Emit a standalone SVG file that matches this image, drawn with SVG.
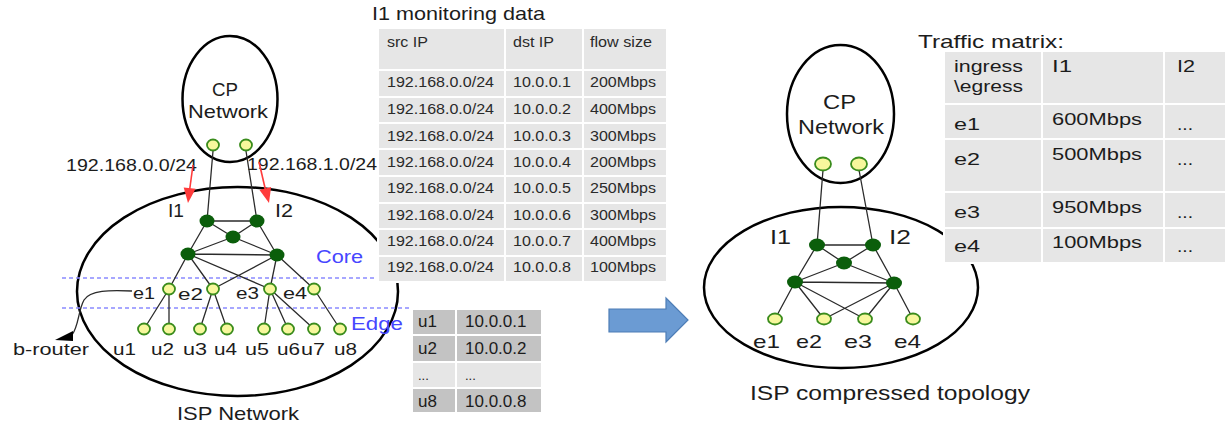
<svg xmlns="http://www.w3.org/2000/svg" width="1225" height="428" viewBox="0 0 1225 428">
<defs>
<style>
text{font-family:"Liberation Sans",Arial,sans-serif;fill:#1c1c1c}
.ring{fill:none;stroke:#000;stroke-width:2.5}
.lk{stroke:#2b2b2b;stroke-width:1.3;fill:none}
.core{fill:#0b5e0b}
.edge{fill:#f7f79c;stroke:#3a8c1c;stroke-width:1.8}
.cell{fill:#e6e6e6;stroke:#fff;stroke-width:2}
.dcell{fill:#c3c3c3;stroke:#fff;stroke-width:2}
.tt{font-size:14px;fill:#2a2a2a}
.mt{font-size:16px;fill:#1c1c1c}
.dash{stroke:#8a8aff;stroke-width:1.3;stroke-dasharray:4 3}
.zone{fill:#4646ff;font-size:18px}
.red{stroke:#ff3b3b;stroke-width:1.6}
.redh{fill:#ff3b3b}
.lbl{font-size:17px}
</style>
</defs>

<!-- ISP network (full topology) -->
<g id="isp-network">
  <ellipse class="ring" cx="237.5" cy="291.5" rx="160.5" ry="104.5"/>
  <line class="dash" x1="62" y1="278" x2="378" y2="278"/>
  <line class="dash" x1="62" y1="308" x2="410" y2="308"/>
  <text class="zone" x="316" y="263" textLength="47" lengthAdjust="spacingAndGlyphs">Core</text>
  <text class="zone" x="351" y="330" textLength="52" lengthAdjust="spacingAndGlyphs">Edge</text>
  <text x="177" y="420" font-size="19" textLength="122" lengthAdjust="spacingAndGlyphs">ISP Network</text>
</g>

<!-- CP network -->
<g id="cp-network">
  <ellipse class="ring" cx="230" cy="99" rx="47.5" ry="63" stroke-width="2"/>
  <text x="212" y="96" font-size="19" textLength="26" lengthAdjust="spacingAndGlyphs">CP</text>
  <text x="188" y="118" font-size="19" textLength="80" lengthAdjust="spacingAndGlyphs">Network</text>
</g>

<!-- prefix annotations -->
<g id="prefixes">
  <text x="66" y="171" font-size="16.5" textLength="131" lengthAdjust="spacingAndGlyphs">192.168.0.0/24</text>
  <text x="247" y="170" font-size="16.5" textLength="130" lengthAdjust="spacingAndGlyphs">192.168.1.0/24</text>
  <line class="red" x1="193" y1="165" x2="189.6" y2="190"/>
  <polygon class="redh" points="188,203 195.6,188.8 183.7,187.4"/>
  <line class="red" x1="259" y1="162" x2="265.5" y2="190"/>
  <polygon class="redh" points="269,203 271.1,187 259.5,190"/>
</g>

<!-- links of the full topology -->
<g id="links-full">
  <path class="lk" d="M213,151 L207,221 M246,151 L257,221 M207,221 L257,221 M207,221 L188,254 M257,221 L277,255 M207,221 L233,237 M257,221 L233,237 M233,237 L188,254 M233,237 L277,255 M188,254 L277,255 M188,254 L169,289 M188,254 L213,289 M188,254 L270,289 M277,255 L213,289 M277,255 L270,289 M277,255 L314,289 M169,289 L144,329 M169,289 L169,329 M213,289 L200,329 M213,289 L227,329 M270,289 L264,329 M270,289 L288,329 M270,289 L314,329 M314,289 L340,329"/>
  <path class="lk" stroke="#333" d="M132,291 C110,290 90,290 84,300 C78,311 79,325 72,335"/>
  <polygon points="55,340 73,331 73,341" fill="#000"/>
</g>

<!-- nodes of the full topology -->
<g id="cp-ports">
  <ellipse class="edge" cx="213" cy="145" rx="6" ry="5.5"/>
  <ellipse class="edge" cx="246" cy="145" rx="6" ry="5.5"/>
</g>
<g id="ingress-I1"><ellipse class="core" cx="207" cy="221" rx="7.5" ry="6.5"/><text x="168" y="217" font-size="19" textLength="16" lengthAdjust="spacingAndGlyphs">I1</text></g>
<g id="ingress-I2"><ellipse class="core" cx="257" cy="221" rx="7.5" ry="6.5"/><text x="275" y="217" font-size="19" textLength="18" lengthAdjust="spacingAndGlyphs">I2</text></g>
<g id="core-mid"><ellipse class="core" cx="233" cy="237" rx="7.5" ry="6.5"/></g>
<g id="core-left"><ellipse class="core" cx="188" cy="254" rx="7.5" ry="6.5"/></g>
<g id="core-right"><ellipse class="core" cx="277" cy="255" rx="7.5" ry="6.5"/></g>
<g id="edge-e1"><ellipse class="edge" cx="169" cy="289" rx="6" ry="5.5"/><text class="lbl" x="133" y="299" textLength="22" lengthAdjust="spacingAndGlyphs">e1</text></g>
<g id="edge-e2"><ellipse class="edge" cx="213" cy="289" rx="6" ry="5.5"/><text class="lbl" x="178" y="300" textLength="25" lengthAdjust="spacingAndGlyphs">e2</text></g>
<g id="edge-e3"><ellipse class="edge" cx="270" cy="289" rx="6" ry="5.5"/><text class="lbl" x="236" y="299" textLength="23" lengthAdjust="spacingAndGlyphs">e3</text></g>
<g id="edge-e4"><ellipse class="edge" cx="314" cy="289" rx="6" ry="5.5"/><text class="lbl" x="283" y="299" textLength="24" lengthAdjust="spacingAndGlyphs">e4</text></g>
<g id="user-u1"><ellipse class="edge" cx="144" cy="329" rx="6" ry="5.5"/><text class="lbl" x="113" y="355" textLength="23" lengthAdjust="spacingAndGlyphs">u1</text></g>
<g id="user-u2"><ellipse class="edge" cx="169" cy="329" rx="6" ry="5.5"/><text class="lbl" x="151" y="355" textLength="23" lengthAdjust="spacingAndGlyphs">u2</text></g>
<g id="user-u3"><ellipse class="edge" cx="200" cy="329" rx="6" ry="5.5"/><text class="lbl" x="183" y="355" textLength="24" lengthAdjust="spacingAndGlyphs">u3</text></g>
<g id="user-u4"><ellipse class="edge" cx="227" cy="329" rx="6" ry="5.5"/><text class="lbl" x="214" y="355" textLength="23" lengthAdjust="spacingAndGlyphs">u4</text></g>
<g id="user-u5"><ellipse class="edge" cx="264" cy="329" rx="6" ry="5.5"/><text class="lbl" x="245" y="355" textLength="24" lengthAdjust="spacingAndGlyphs">u5</text></g>
<g id="user-u6"><ellipse class="edge" cx="288" cy="329" rx="6" ry="5.5"/><text class="lbl" x="277" y="355" textLength="23" lengthAdjust="spacingAndGlyphs">u6</text></g>
<g id="user-u7"><ellipse class="edge" cx="314" cy="329" rx="6" ry="5.5"/><text class="lbl" x="301" y="355" textLength="24" lengthAdjust="spacingAndGlyphs">u7</text></g>
<g id="user-u8"><ellipse class="edge" cx="340" cy="329" rx="6" ry="5.5"/><text class="lbl" x="334" y="355" textLength="23" lengthAdjust="spacingAndGlyphs">u8</text></g>
<g id="b-router-label"><text class="lbl" x="13" y="355" textLength="76" lengthAdjust="spacingAndGlyphs">b-router</text></g>

<!-- I1 monitoring data table -->
<g id="monitoring-table">
  <text x="372" y="20" font-size="19" textLength="173" lengthAdjust="spacingAndGlyphs">I1 monitoring data</text>
  <rect class="cell" x="378" y="28" width="127" height="42"/>
  <rect class="cell" x="505" y="28" width="78" height="42"/>
  <rect class="cell" x="583" y="28" width="84" height="42"/>
  <g>
    <rect class="cell" x="378" y="70" width="127" height="27"/><rect class="cell" x="505" y="70" width="78" height="27"/><rect class="cell" x="583" y="70" width="84" height="27"/>
    <rect class="cell" x="378" y="97" width="127" height="26"/><rect class="cell" x="505" y="97" width="78" height="26"/><rect class="cell" x="583" y="97" width="84" height="26"/>
    <rect class="cell" x="378" y="123" width="127" height="26"/><rect class="cell" x="505" y="123" width="78" height="26"/><rect class="cell" x="583" y="123" width="84" height="26"/>
    <rect class="cell" x="378" y="149" width="127" height="27"/><rect class="cell" x="505" y="149" width="78" height="27"/><rect class="cell" x="583" y="149" width="84" height="27"/>
    <rect class="cell" x="378" y="176" width="127" height="27"/><rect class="cell" x="505" y="176" width="78" height="27"/><rect class="cell" x="583" y="176" width="84" height="27"/>
    <rect class="cell" x="378" y="203" width="127" height="26"/><rect class="cell" x="505" y="203" width="78" height="26"/><rect class="cell" x="583" y="203" width="84" height="26"/>
    <rect class="cell" x="378" y="229" width="127" height="27"/><rect class="cell" x="505" y="229" width="78" height="27"/><rect class="cell" x="583" y="229" width="84" height="27"/>
    <rect class="cell" x="378" y="256" width="127" height="26"/><rect class="cell" x="505" y="256" width="78" height="26"/><rect class="cell" x="583" y="256" width="84" height="26"/>
  </g>
  <text class="tt" x="387" y="47" textLength="41" lengthAdjust="spacingAndGlyphs">src IP</text>
  <text class="tt" x="513" y="47" textLength="41" lengthAdjust="spacingAndGlyphs">dst IP</text>
  <text class="tt" x="590" y="47" textLength="62" lengthAdjust="spacingAndGlyphs">flow size</text>
  <g class="tt">
    <text class="tt" x="387" y="87" textLength="107" lengthAdjust="spacingAndGlyphs">192.168.0.0/24</text><text class="tt" x="513" y="87" textLength="58" lengthAdjust="spacingAndGlyphs">10.0.0.1</text><text class="tt" x="590" y="87" textLength="66" lengthAdjust="spacingAndGlyphs">200Mbps</text>
    <text class="tt" x="387" y="114" textLength="107" lengthAdjust="spacingAndGlyphs">192.168.0.0/24</text><text class="tt" x="513" y="114" textLength="58" lengthAdjust="spacingAndGlyphs">10.0.0.2</text><text class="tt" x="590" y="114" textLength="66" lengthAdjust="spacingAndGlyphs">400Mbps</text>
    <text class="tt" x="387" y="141" textLength="107" lengthAdjust="spacingAndGlyphs">192.168.0.0/24</text><text class="tt" x="513" y="141" textLength="58" lengthAdjust="spacingAndGlyphs">10.0.0.3</text><text class="tt" x="590" y="141" textLength="66" lengthAdjust="spacingAndGlyphs">300Mbps</text>
    <text class="tt" x="387" y="167" textLength="107" lengthAdjust="spacingAndGlyphs">192.168.0.0/24</text><text class="tt" x="513" y="167" textLength="58" lengthAdjust="spacingAndGlyphs">10.0.0.4</text><text class="tt" x="590" y="167" textLength="66" lengthAdjust="spacingAndGlyphs">200Mbps</text>
    <text class="tt" x="387" y="193" textLength="107" lengthAdjust="spacingAndGlyphs">192.168.0.0/24</text><text class="tt" x="513" y="193" textLength="58" lengthAdjust="spacingAndGlyphs">10.0.0.5</text><text class="tt" x="590" y="193" textLength="66" lengthAdjust="spacingAndGlyphs">250Mbps</text>
    <text class="tt" x="387" y="220" textLength="107" lengthAdjust="spacingAndGlyphs">192.168.0.0/24</text><text class="tt" x="513" y="220" textLength="58" lengthAdjust="spacingAndGlyphs">10.0.0.6</text><text class="tt" x="590" y="220" textLength="66" lengthAdjust="spacingAndGlyphs">300Mbps</text>
    <text class="tt" x="387" y="246" textLength="107" lengthAdjust="spacingAndGlyphs">192.168.0.0/24</text><text class="tt" x="513" y="246" textLength="58" lengthAdjust="spacingAndGlyphs">10.0.0.7</text><text class="tt" x="590" y="246" textLength="66" lengthAdjust="spacingAndGlyphs">400Mbps</text>
    <text class="tt" x="387" y="272" textLength="107" lengthAdjust="spacingAndGlyphs">192.168.0.0/24</text><text class="tt" x="513" y="272" textLength="58" lengthAdjust="spacingAndGlyphs">10.0.0.8</text><text class="tt" x="590" y="272" textLength="66" lengthAdjust="spacingAndGlyphs">100Mbps</text>
  </g>
</g>

<!-- user address table -->
<g id="user-table">
  <rect class="dcell" x="412" y="309" width="44" height="26"/><rect class="dcell" x="456" y="309" width="86" height="26"/>
  <rect class="dcell" x="412" y="335" width="44" height="27"/><rect class="dcell" x="456" y="335" width="86" height="27"/>
  <rect class="cell" x="412" y="362" width="44" height="26"/><rect class="cell" x="456" y="362" width="86" height="26"/>
  <rect class="dcell" x="412" y="388" width="44" height="25"/><rect class="dcell" x="456" y="388" width="86" height="25"/>
  <text x="418" y="327" font-size="17">u1</text><text x="465" y="327" font-size="17">10.0.0.1</text>
  <text x="418" y="354" font-size="17">u2</text><text x="465" y="354" font-size="17">10.0.0.2</text>
  <text x="418" y="380" font-size="13" fill="#666">...</text><text x="465" y="380" font-size="13" fill="#666">...</text>
  <text x="418" y="407" font-size="17">u8</text><text x="465" y="407" font-size="17">10.0.0.8</text>
</g>

<!-- transformation arrow -->
<g id="compress-arrow">
  <polygon points="609,309 666,309 666,298 688,320 666,342 666,332 609,332" fill="#6b9bd3" stroke="#4d7db6" stroke-width="1.2"/>
</g>

<!-- compressed ISP topology -->
<g id="isp-compressed">
  <ellipse class="ring" cx="841" cy="287.5" rx="137" ry="80.5" stroke-width="3"/>
  <text x="750" y="400" font-size="20" textLength="280" lengthAdjust="spacingAndGlyphs">ISP compressed topology</text>
</g>
<g id="cp-network-2">
  <ellipse class="ring" cx="840.5" cy="114" rx="53.5" ry="69" stroke-width="3"/>
  <text x="823" y="109" font-size="20" textLength="33" lengthAdjust="spacingAndGlyphs">CP</text>
  <text x="798" y="134" font-size="20" textLength="86" lengthAdjust="spacingAndGlyphs">Network</text>
</g>
<g id="links-compressed">
  <path class="lk" d="M823,170 L817,245 M859,170 L873,245 M817,245 L873,245 M817,245 L795,282 M873,245 L894,283 M817,245 L844,263 M873,245 L844,263 M844,263 L795,282 M844,263 L894,283 M795,282 L894,283 M795,282 L775,319 M795,282 L824,319 M795,282 L865,319 M894,283 L824,319 M894,283 L865,319 M894,283 L913,319"/>
</g>
<g id="cp-ports-2">
  <ellipse class="edge" cx="823" cy="164" rx="8" ry="6.5"/>
  <ellipse class="edge" cx="859" cy="164" rx="8" ry="6.5"/>
</g>
<g id="c-I1"><ellipse class="core" cx="817" cy="245" rx="8" ry="6.5"/><text x="770" y="244" font-size="21" textLength="21" lengthAdjust="spacingAndGlyphs">I1</text></g>
<g id="c-I2"><ellipse class="core" cx="873" cy="245" rx="8" ry="6.5"/><text x="889" y="244" font-size="21" textLength="22" lengthAdjust="spacingAndGlyphs">I2</text></g>
<g id="c-mid"><ellipse class="core" cx="844" cy="263" rx="8" ry="6.5"/></g>
<g id="c-left"><ellipse class="core" cx="795" cy="282" rx="8" ry="6.5"/></g>
<g id="c-right"><ellipse class="core" cx="894" cy="283" rx="8" ry="6.5"/></g>
<g id="c-e1"><ellipse class="edge" cx="775" cy="319" rx="7" ry="5.5"/><text x="753" y="348" font-size="19" textLength="27" lengthAdjust="spacingAndGlyphs">e1</text></g>
<g id="c-e2"><ellipse class="edge" cx="824" cy="319" rx="7" ry="5.5"/><text x="796" y="348" font-size="19" textLength="26" lengthAdjust="spacingAndGlyphs">e2</text></g>
<g id="c-e3"><ellipse class="edge" cx="865" cy="319" rx="7" ry="5.5"/><text x="844" y="348" font-size="19" textLength="28" lengthAdjust="spacingAndGlyphs">e3</text></g>
<g id="c-e4"><ellipse class="edge" cx="913" cy="319" rx="7" ry="5.5"/><text x="894" y="348" font-size="19" textLength="27" lengthAdjust="spacingAndGlyphs">e4</text></g>

<!-- traffic matrix -->
<g id="traffic-matrix">
  <text x="918" y="48" font-size="19" textLength="146" lengthAdjust="spacingAndGlyphs">Traffic matrix:</text>
  <rect class="cell" x="944" y="51" width="98" height="53"/><rect class="cell" x="1042" y="51" width="122" height="53"/><rect class="cell" x="1164" y="51" width="62" height="53"/>
  <rect class="cell" x="944" y="104" width="98" height="35"/><rect class="cell" x="1042" y="104" width="122" height="35"/><rect class="cell" x="1164" y="104" width="62" height="35"/>
  <rect class="cell" x="944" y="139" width="98" height="53"/><rect class="cell" x="1042" y="139" width="122" height="53"/><rect class="cell" x="1164" y="139" width="62" height="53"/>
  <rect class="cell" x="944" y="192" width="98" height="36"/><rect class="cell" x="1042" y="192" width="122" height="36"/><rect class="cell" x="1164" y="192" width="62" height="36"/>
  <rect class="cell" x="944" y="228" width="98" height="35"/><rect class="cell" x="1042" y="228" width="122" height="35"/><rect class="cell" x="1164" y="228" width="62" height="35"/>
  <text class="mt" x="954" y="72" textLength="69" lengthAdjust="spacingAndGlyphs">ingress</text>
  <text class="mt" x="954" y="92" textLength="69" lengthAdjust="spacingAndGlyphs">\egress</text>
  <text class="mt" x="1052" y="72" textLength="20" lengthAdjust="spacingAndGlyphs">I1</text>
  <text class="mt" x="1177" y="72" textLength="18" lengthAdjust="spacingAndGlyphs">I2</text>
  <text class="mt" x="954" y="130" textLength="26" lengthAdjust="spacingAndGlyphs">e1</text>
  <text class="mt" x="1052" y="125" textLength="90" lengthAdjust="spacingAndGlyphs">600Mbps</text>
  <text class="mt" x="1177" y="130" textLength="16" lengthAdjust="spacingAndGlyphs">...</text>
  <text class="mt" x="954" y="165" textLength="26" lengthAdjust="spacingAndGlyphs">e2</text>
  <text class="mt" x="1052" y="160" textLength="90" lengthAdjust="spacingAndGlyphs">500Mbps</text>
  <text class="mt" x="1177" y="165" textLength="16" lengthAdjust="spacingAndGlyphs">...</text>
  <text class="mt" x="954" y="218" textLength="26" lengthAdjust="spacingAndGlyphs">e3</text>
  <text class="mt" x="1052" y="213" textLength="90" lengthAdjust="spacingAndGlyphs">950Mbps</text>
  <text class="mt" x="1177" y="218" textLength="16" lengthAdjust="spacingAndGlyphs">...</text>
  <text class="mt" x="954" y="252" textLength="26" lengthAdjust="spacingAndGlyphs">e4</text>
  <text class="mt" x="1052" y="248" textLength="90" lengthAdjust="spacingAndGlyphs">100Mbps</text>
  <text class="mt" x="1177" y="252" textLength="16" lengthAdjust="spacingAndGlyphs">...</text>
</g>
</svg>
